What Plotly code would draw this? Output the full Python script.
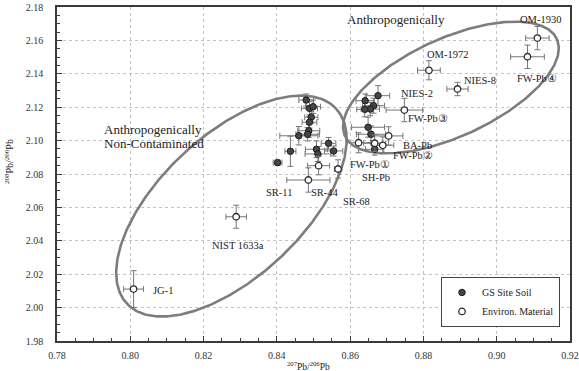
import numpy as np
import plotly.graph_objects as go

# ---------------- data ----------------
# GS Site Soil (filled markers)
soil_x = [0.8480, 0.8489, 0.8499, 0.8494, 0.8489, 0.8487, 0.8484, 0.8460, 0.8437, 0.8402,
          0.8508, 0.8512, 0.8541, 0.8555, 0.8676, 0.8641, 0.8664, 0.8655, 0.8640, 0.8649,
          0.8657, 0.8667]
soil_y = [2.1243, 2.1193, 2.1203, 2.1140, 2.1110, 2.1059, 2.1038, 2.1029, 2.0936, 2.0868,
          2.0948, 2.0920, 2.0984, 2.0938, 2.1269, 2.1239, 2.1209, 2.1189, 2.1187, 2.1080,
          2.1038, 2.0948]
soil_xerr = [0.0020, 0.0022, 0.0020, 0.0018, 0.0020, 0.0030, 0.0032, 0.0052, 0.0015, 0.0012,
             0.0030, 0.0035, 0.0020, 0.0025, 0.0032, 0.0025, 0.0030, 0.0025, 0.0022, 0.0045,
             0.0040, 0.0025]
soil_yerr = [0.0036, 0.0040, 0.0040, 0.0035, 0.0035, 0.0040, 0.0040, 0.0055, 0.0090, 0.0015,
             0.0050, 0.0045, 0.0035, 0.0030, 0.0060, 0.0040, 0.0045, 0.0040, 0.0045, 0.0060,
             0.0050, 0.0035]

# Environmental materials (open markers)
env_x = [0.8009, 0.8289, 0.8514, 0.8567, 0.8486, 0.8623, 0.8667, 0.8689, 0.8705,
         0.8748, 0.8893, 0.8815, 0.9111, 0.9084]
env_y = [2.0111, 2.0544, 2.0850, 2.0830, 2.0764, 2.0987, 2.0984, 2.0972, 2.1028,
         2.1183, 2.1309, 2.1421, 2.1614, 2.1502]
env_xerr = [0.0027, 0.0028, 0.0030, 0.0010, 0.0059, 0.0033, 0.0030, 0.0030, 0.0039,
            0.0050, 0.0029, 0.0031, 0.0032, 0.0046]
env_yerr = [0.0110, 0.0069, 0.0055, 0.0055, 0.0073, 0.0060, 0.0050, 0.0050, 0.0055,
            0.0070, 0.0040, 0.0057, 0.0070, 0.0070]

# point labels
label_text = ["OM-1930", "OM-1972", "NIES-8", "NIES-2", "FW-Pb③", "FW-Pb④", "BA-Pb",
              "FW-Pb②", "FW-Pb①", "SH-Pb", "SR-11", "SR-44", "SR-68", "NIST 1633a"]
label_x = [0.9119, 0.8865, 0.8955, 0.8783, 0.8813, 0.9111, 0.8783,
           0.8772, 0.8655, 0.8671, 0.8406, 0.8532, 0.8617, 0.8293]
label_y = [2.1726, 2.1517, 2.1359, 2.1285, 2.1135, 2.1369, 2.0969,
           2.0910, 2.0854, 2.0778, 2.0690, 2.0688, 2.0634, 2.0371]

# region ellipses: centre (data), semi-axes (screen px), tilt (deg)
ell_cx = [0.8276, 0.8875]
ell_cy = [2.0608, 2.1318]
ell_a = [143, 116.5]
ell_b = [71, 49]
ell_ang = [43, 24.6]

x_range = [0.78, 0.92]
y_range = [1.98, 2.18]

# ---------------- layout constants ----------------
W, H = 579, 371
ML, MR, MT, MB = 57, 9, 7, 30
PW, PH = W - ML - MR, H - MT - MB
px_per_x = PW / (x_range[1] - x_range[0])
px_per_y = PH / (y_range[1] - y_range[0])

FONT = "Liberation Serif, DejaVu Serif, Noto Serif, serif"

fig = go.Figure()

# ellipses
t = np.linspace(0, 2 * np.pi, 400)
for cx, cy, a, b, ang in zip(ell_cx, ell_cy, ell_a, ell_b, ell_ang):
    th = np.deg2rad(ang)
    u, v = a * np.cos(t), b * np.sin(t)
    dx = u * np.cos(th) - v * np.sin(th)
    dy = u * np.sin(th) + v * np.cos(th)
    fig.add_trace(go.Scatter(x=cx + dx / px_per_x, y=cy + dy / px_per_y, mode="lines",
                             line=dict(color="#7d7d7d", width=2.6),
                             hoverinfo="skip", showlegend=False))

err_style = dict(color="#777777", thickness=1, width=3)

fig.add_trace(go.Scatter(
    x=soil_x, y=soil_y, mode="markers", name="GS Site Soil",
    marker=dict(size=6.5, color="#454545", line=dict(color="#1e1e1e", width=1)),
    error_x=dict(type="data", array=soil_xerr, visible=True, **err_style),
    error_y=dict(type="data", array=soil_yerr, visible=True, **err_style),
))
fig.add_trace(go.Scatter(
    x=env_x, y=env_y, mode="markers", name="Environ. Material",
    marker=dict(size=6.5, color="white", line=dict(color="#2a2a2a", width=1.3)),
    error_x=dict(type="data", array=env_xerr, visible=True, **err_style),
    error_y=dict(type="data", array=env_yerr, visible=True, **err_style),
))

# labels
for txt, lx, ly in zip(label_text, label_x, label_y):
    fig.add_annotation(x=lx, y=ly, text=txt, showarrow=False, xanchor="center",
                       yanchor="middle", font=dict(family=FONT, size=10.5, color="#222"))
fig.add_annotation(x=0.8057, y=2.0101, text="JG-1", showarrow=False, xanchor="left",
                   yanchor="middle", font=dict(family=FONT, size=10.5, color="#222"))

# region titles
fig.add_annotation(x=0.8587, y=2.1728, text="Anthropogenically", showarrow=False,
                   xanchor="left", yanchor="middle", font=dict(family=FONT, size=13, color="#222"))
fig.add_annotation(x=0.7923, y=2.1069, text="Anthropogenically", showarrow=False,
                   xanchor="left", yanchor="middle", font=dict(family=FONT, size=13, color="#222"))
fig.add_annotation(x=0.7923, y=2.0980, text="Non-Contaminated", showarrow=False,
                   xanchor="left", yanchor="middle", font=dict(family=FONT, size=13, color="#222"))

# axis titles
fig.add_annotation(xref="paper", yref="paper", x=0.491, y=0, yanchor="top", yshift=-17,
                   text="<sup>207</sup>Pb/<sup>206</sup>Pb", showarrow=False,
                   font=dict(family=FONT, size=9.5, color="#222"))
fig.add_annotation(xref="paper", yref="paper", x=0, xanchor="center", xshift=-48, y=0.536,
                   text="<sup>208</sup>Pb/<sup>206</sup>Pb", textangle=-90, showarrow=False,
                   font=dict(family=FONT, size=10, color="#222"))

axis_common = dict(
    showline=True, linecolor="#3a3a3a", linewidth=1.5, mirror=True,
    showgrid=True, gridcolor="#c4c4c4", griddash="dot", gridwidth=1,
    zeroline=False, ticks="inside", ticklen=5, tickcolor="#3a3a3a",
    tickfont=dict(family=FONT, size=10, color="#333"),
    automargin=False,
)

fig.update_xaxes(range=x_range, dtick=0.02, tick0=0.78, tickformat=".2f",
                 minor=dict(dtick=0.005, ticks="inside", ticklen=3, tickcolor="#3a3a3a",
                            showgrid=False),
                 ticklabelstandoff=4, **axis_common)
fig.update_yaxes(range=y_range, dtick=0.02, tick0=1.98, tickformat=".2f",
                 minor=dict(dtick=0.005, ticks="inside", ticklen=3, tickcolor="#3a3a3a",
                            showgrid=False),
                 ticklabelstandoff=10, **axis_common)

fig.update_layout(
    width=W, height=H,
    margin=dict(l=ML, r=MR, t=MT, b=MB, pad=0),
    paper_bgcolor="white", plot_bgcolor="white",
    showlegend=True,
    legend=dict(x=0.9805, xanchor="right", y=0.042, yanchor="bottom",
                bgcolor="white", bordercolor="#444", borderwidth=1,
                font=dict(family=FONT, size=10, color="#222"),
                itemwidth=30, tracegroupgap=0),
    font=dict(family=FONT),
)

fig.write_html("out.html")
